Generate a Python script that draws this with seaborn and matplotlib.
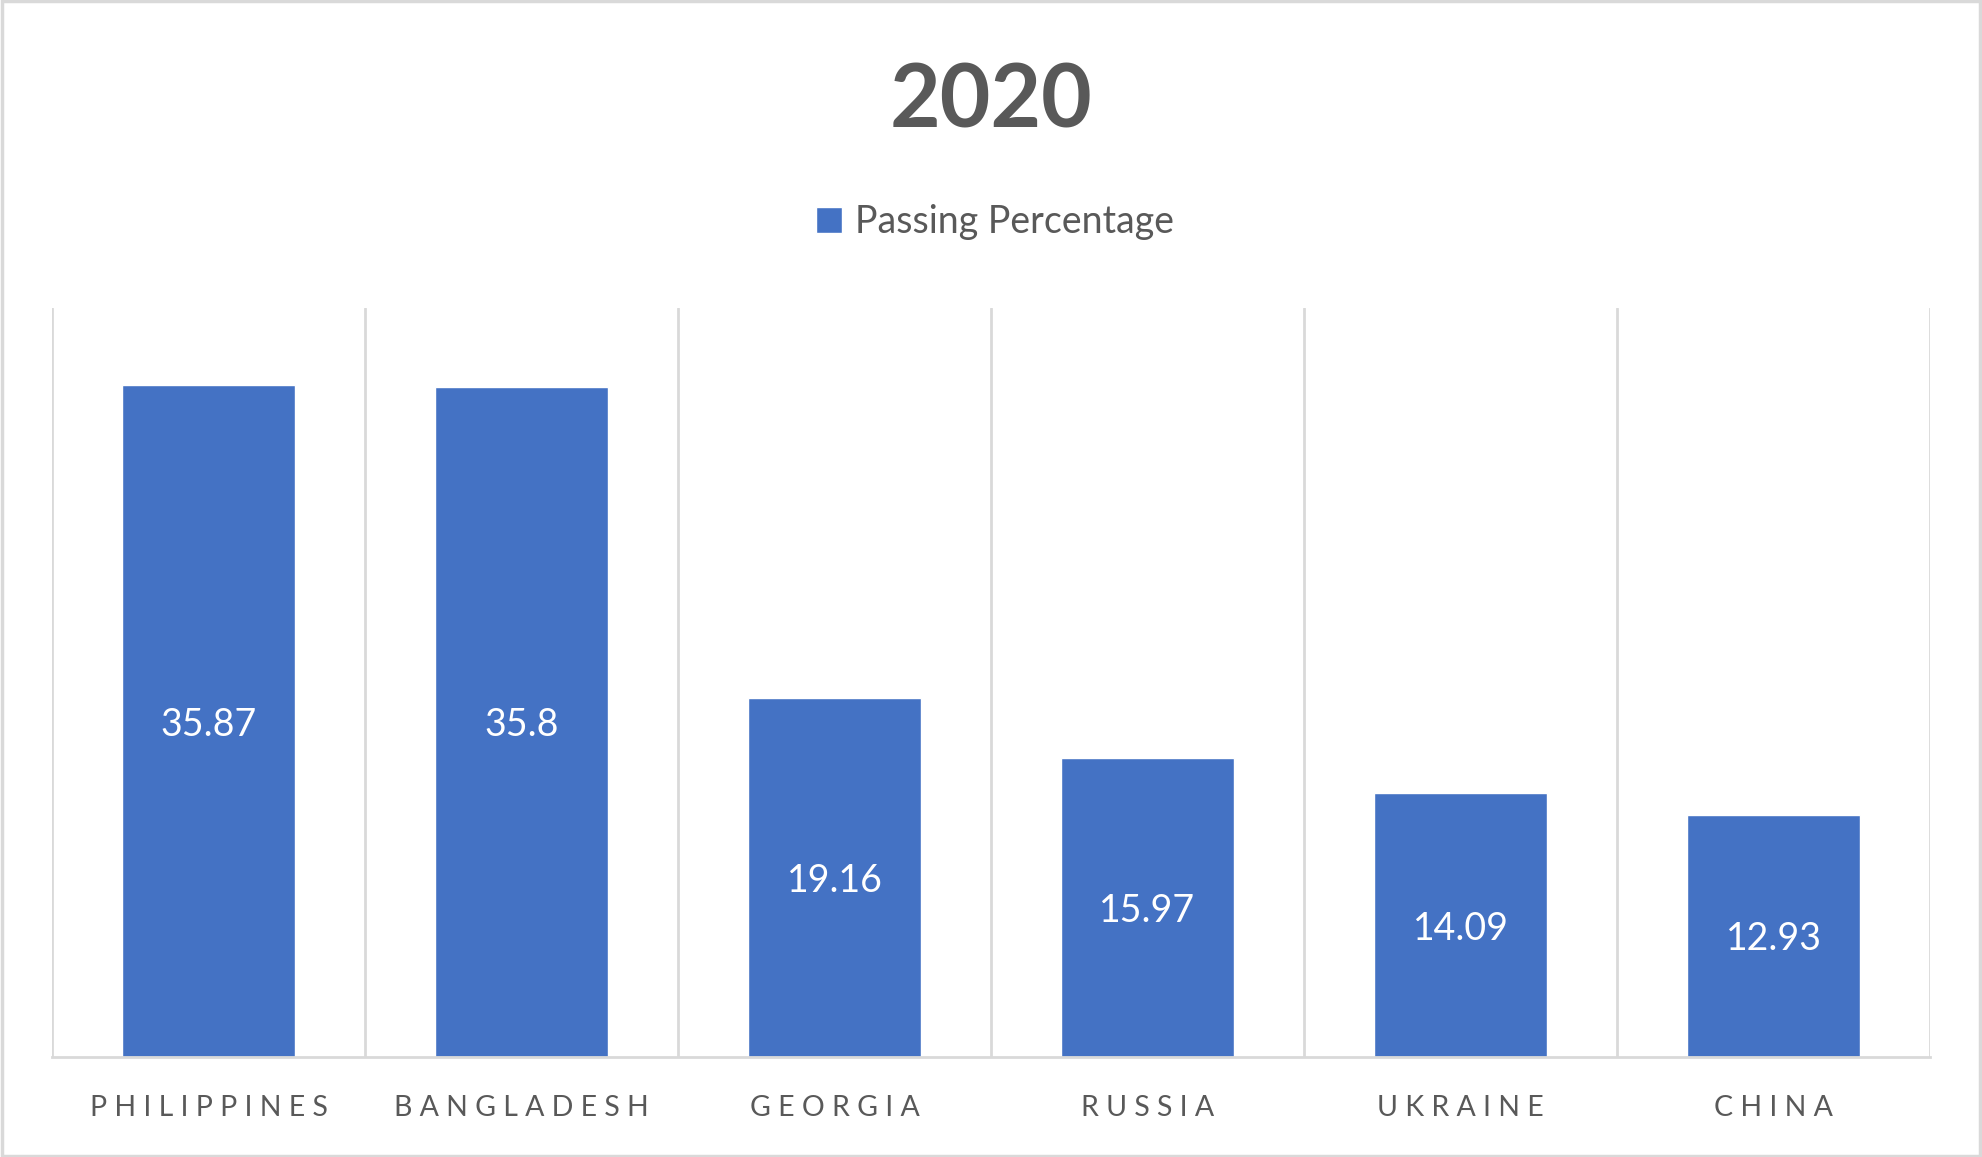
import matplotlib
matplotlib.use("Agg")
import matplotlib.pyplot as plt
import seaborn as sns
import pandas as pd
from matplotlib.patches import Rectangle

countries = ["PHILIPPINES", "BANGLADESH", "GEORGIA", "RUSSIA", "UKRAINE", "CHINA"]
passing = [35.87, 35.8, 19.16, 15.97, 14.09, 12.93]
labels = ["35.87", "35.8", "19.16", "15.97", "14.09", "12.93"]
title = "2020"
series_name = "Passing Percentage"

sns.set_style("white")
plt.rcParams["font.family"] = ["Lato", "DejaVu Sans"]

BAR = "#4472C4"
TXT = "#595959"
GRID = "#D9D9D9"

df = pd.DataFrame({"country": countries, "value": passing})

fig = plt.figure(figsize=(19.82, 11.57), dpi=100)
ax = fig.add_axes([0.0262, 0.0864, 0.9476, 0.6474])

sns.barplot(data=df, x="country", y="value", color=BAR, width=0.553,
            saturation=1, label=series_name, ax=ax, zorder=3)

ax.set_xlim(-0.5, len(countries) - 0.5)
ax.set_ylim(0, 40)
ax.set_yticks([])
ax.set_xlabel("")
ax.set_ylabel("")

# vertical category separators
for i in range(len(countries) + 1):
    ax.axvline(i - 0.5, color=GRID, lw=2, zorder=1)

for s in ["top", "right", "left"]:
    ax.spines[s].set_visible(False)
ax.spines["bottom"].set_color(GRID)
ax.spines["bottom"].set_linewidth(2)
ax.spines["bottom"].set_zorder(4)

spaced = [" ".join(c) for c in countries]
ax.set_xticks(range(len(countries)))
ax.set_xticklabels(spaced, fontsize=20.5, color=TXT)
ax.tick_params(axis="x", length=0, pad=27)

for bar, lab in zip(ax.patches, labels):
    cx = bar.get_x() + bar.get_width() / 2
    cy = bar.get_height() / 2
    ax.text(cx, cy, lab, ha="center", va="center_baseline", color="white", fontsize=27)

fig.text(0.5, 0.912, title, ha="center", va="center", fontsize=63,
         fontweight="bold", color=TXT)

leg = ax.legend(loc="center", bbox_to_anchor=(0.502, 0.808), bbox_transform=fig.transFigure,
                frameon=False, fontsize=27, handlelength=0.7, handleheight=0.7,
                handletextpad=0.35, labelcolor=TXT)

fig.patches.append(Rectangle((0.001, 0.001), 0.998, 0.998, transform=fig.transFigure,
                             fill=False, edgecolor=GRID, lw=2.5))

fig.savefig("out.png", dpi=100, facecolor="white")
